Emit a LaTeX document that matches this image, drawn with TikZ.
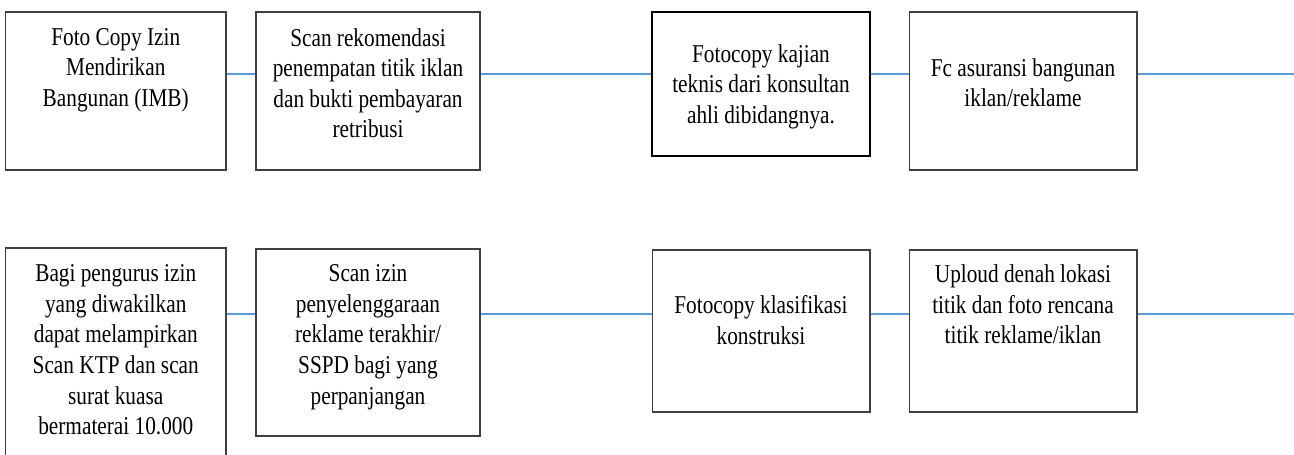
\documentclass[tikz,border=0pt]{standalone}
\usepackage{fontspec}
\setmainfont{Liberation Serif}[FakeStretch=0.83]
\usepackage{xcolor}
\usepackage{tikz}
\usetikzlibrary{shapes,arrows}
\definecolor{linkblue}{RGB}{91,155,213}

\tikzset{
  box/.style={draw=black!75, line width=0.6pt, rectangle, inner sep=0pt},
  boxthick/.style={draw=black, line width=1.1pt, rectangle, inner sep=0pt},
  txt/.style={align=center, inner sep=0pt, anchor=north,
    font=\fontsize{14.6pt}{17.4pt}\selectfont, execute at begin node=\strut},
  link/.style={draw=linkblue, line width=0.6pt}
}

\begin{document}
\begin{tikzpicture}[x=0.02cm, y=-0.02cm]
\clip (0,0) rectangle (1294,455);
%%% The boxes of the first row
\node[box, minimum width=4.41cm, minimum height=3.16cm] (b1) at (115.75,91) {};
\node[box, minimum width=4.48cm, minimum height=3.16cm] (b2) at (368,91) {};
\node[boxthick, minimum width=4.36cm, minimum height=2.88cm] (b3) at (761,84) {};
\node[box, minimum width=4.56cm, minimum height=3.16cm] (b4) at (1023,91) {};
\node[txt] (t1) at (115.75,28) {Foto Copy Izin\\Mendirikan\\Bangunan (IMB)};
\node[txt] (t2) at (368,28) {Scan rekomendasi\\penempatan titik iklan\\dan bukti pembayaran\\retribusi};
\node[txt] (t3) at (761,44) {Fotocopy kajian\\teknis dari konsultan\\ahli dibidangnya.};
\node[txt] (t4) at (1023,58) {Fc asuransi bangunan\\iklan/reklame};
%%% The boxes of the second row
\node[box, minimum width=4.41cm, minimum height=4.44cm] (b5) at (115.75,359) {};
\node[box, minimum width=4.48cm, minimum height=3.74cm] (b6) at (368,342.5) {};
\node[box, minimum width=4.36cm, minimum height=3.24cm] (b7) at (761,331) {};
\node[box, minimum width=4.56cm, minimum height=3.24cm] (b8) at (1023,331) {};
\node[txt] (t5) at (115.75,264.5) {Bagi pengurus izin\\yang diwakilkan\\dapat melampirkan\\Scan KTP dan scan\\surat kuasa\\bermaterai 10.000};
\node[txt] (t6) at (368,264.5) {Scan izin\\penyelenggaraan\\reklame terakhir/\\SSPD bagi yang\\perpanjangan};
\node[txt] (t7) at (761,295.5) {Fotocopy klasifikasi\\konstruksi};
\node[txt] (t8) at (1023,264.5) {Uploud denah lokasi\\titik dan foto rencana\\titik reklame/iklan};
%
\coordinate (e1) at (1294,74);
\coordinate (e2) at (1294,314);
%%%% The links between the boxes
\draw[link] (b1.east |- 0,74) -- (b2.west |- 0,74);
\draw[link] (b2.east |- 0,74) -- (b3.west |- 0,74);
\draw[link] (b3.east |- 0,74) -- (b4.west |- 0,74);
\draw[link] (b4.east |- e1) -- (e1);
%
\draw[link] (b5.east |- 0,314) -- (b6.west |- 0,314);
\draw[link] (b6.east |- 0,314) -- (b7.west |- 0,314);
\draw[link] (b7.east |- 0,314) -- (b8.west |- 0,314);
\draw[link] (b8.east |- e2) -- (e2);
\end{tikzpicture}
\end{document}
